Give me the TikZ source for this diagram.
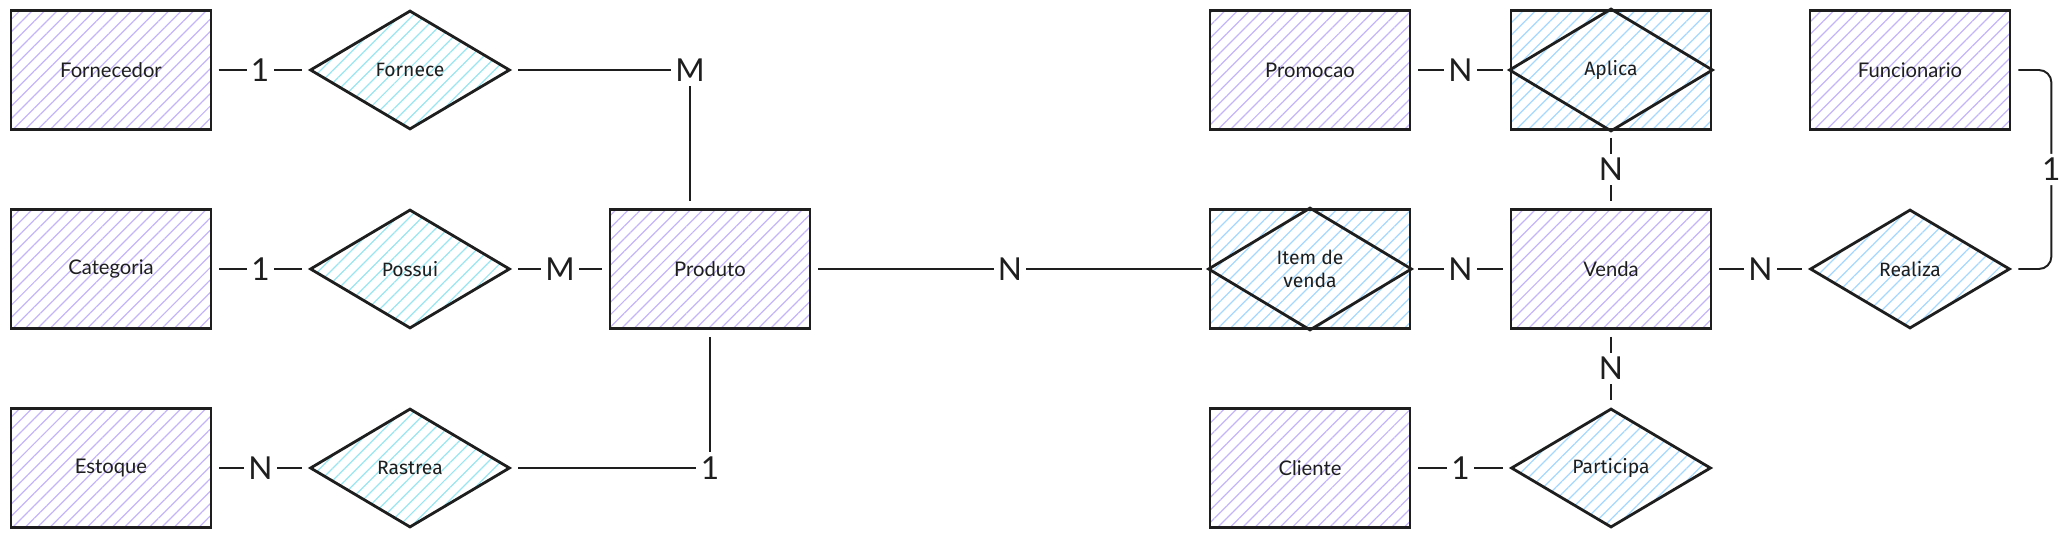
\documentclass[tikz,border=0pt]{standalone}
\usepackage{fontspec}
\setmainfont{Lato}
\newfontfamily\handfont{Fira Sans}
\usetikzlibrary{shapes.geometric,patterns.meta}

\definecolor{ink}{HTML}{1E1E1E}
\definecolor{entcol}{HTML}{C4B5FA}
\definecolor{relcyan}{HTML}{99E6F0}
\definecolor{relblue}{HTML}{A5D8FF}

\tikzset{
  entity/.style={rectangle, draw=ink, line width=1.6pt, minimum width=4cm, minimum height=2.38cm,
    inner sep=0pt, pattern={Lines[angle=45,distance=5pt,line width=0.7pt]}, pattern color=entcol,
    text=ink, font=\fontsize{11.5}{13}\selectfont},
  relation/.style={diamond, aspect=1.68, draw=ink, line width=1.6pt, minimum width=4cm, minimum height=2.38cm,
    inner sep=0pt, pattern={Lines[angle=45,distance=5pt,line width=0.7pt]}, pattern color=relcyan,
    text=ink, font=\handfont\fontsize{11}{13}\selectfont},
  assoc/.style={entity, pattern color=relblue, align=center, font=\handfont\fontsize{11}{13}\selectfont},
  conn/.style={draw=ink, line width=1.1pt, shorten <=4pt, shorten >=4pt},
  card/.style={fill=white, inner sep=2.5pt, text=ink, font=\fontsize{18}{18}\selectfont},
}

\begin{document}
\begin{tikzpicture}[x=0.02cm, y=-0.02cm]
    \useasboundingbox (0,0) rectangle (2068,540);

    % Entities
    \node[entity] (fornecedor) at (111,70) {Fornecedor};
    \node[entity] (categoria) at (111,269) {Categoria};
    \node[entity] (estoque) at (111,468) {Estoque};
    \node[entity] (produto) at (710,269) {Produto};
    \node[entity] (promocao) at (1310,70) {Promocao};
    \node[entity] (venda) at (1611,269) {Venda};
    \node[entity] (cliente) at (1310,468) {Cliente};
    \node[entity] (funcionario) at (1910,70) {Funcionario};

    % Relationships
    \node[relation] (fornece) at (410,70) {Fornece};
    \node[relation] (possui) at (410,269) {Possui};
    \node[relation] (rastrea) at (410,468) {Rastrea};
    \node[relation, pattern color=relblue] (realiza) at (1910,269) {Realiza};
    \node[relation, pattern color=relblue] (participa) at (1611,468) {Participa};

    % Associative entities (box with diamond)
    \node[assoc] (itemvenda) at (1310,269) {Item de\\venda};
    \draw[ink, line width=1.6pt] (itemvenda.west) -- (itemvenda.north) -- (itemvenda.east) -- (itemvenda.south) -- cycle;
    \node[assoc] (aplica) at (1611,70) {Aplica};
    \draw[ink, line width=1.6pt] (aplica.west) -- (aplica.north) -- (aplica.east) -- (aplica.south) -- cycle;

    % Connectors
    \draw[conn] (fornecedor) -- node[card] {1} (fornece);
    \draw[conn] (fornece.east) -| node[card] {M} ([xshift=-0.4cm]produto.north);
    \draw[conn] (categoria) -- node[card] {1} (possui);
    \draw[conn] (possui) -- node[card] {M} (produto);
    \draw[conn] (estoque) -- node[card] {N} (rastrea);
    \draw[conn] (rastrea.east) -| node[card] {1} (produto.south);
    \draw[conn] (produto) -- node[card] {N} (itemvenda);
    \draw[conn] (itemvenda) -- node[card] {N} (venda);
    \draw[conn] (promocao) -- node[card] {N} (aplica);
    \draw[conn] (aplica) -- node[card] {N} (venda);
    \draw[conn] (venda) -- node[card] {N} (participa);
    \draw[conn] (cliente) -- node[card] {1} (participa);
    \draw[conn] (venda) -- node[card] {N} (realiza);
    \draw[conn, rounded corners=0.25cm] (funcionario.east) -- ++(40,0) |- node[card, pos=0.25] {1} (realiza.east);
\end{tikzpicture}
\end{document}
